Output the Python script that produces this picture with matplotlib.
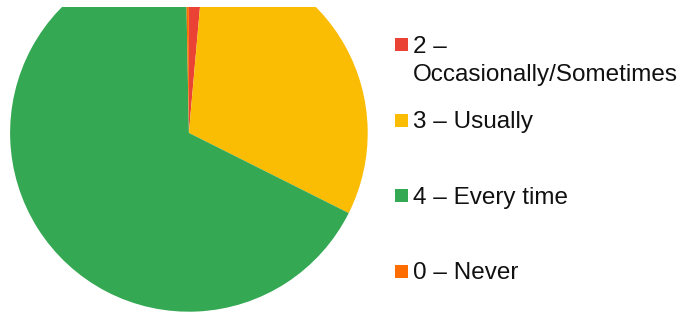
import matplotlib
matplotlib.use("Agg")
import matplotlib.pyplot as plt
from matplotlib.patches import Rectangle

labels = ["2 –\nOccasionally/Sometimes", "3 – Usually", "4 – Every time", "0 – Never"]
values = [1.4, 31.0, 67.3, 0.3]
colors = ["#EA4335", "#FBBC04", "#34A853", "#FF6D01"]

W, H = 688, 314
fig = plt.figure(figsize=(W / 100, H / 100), dpi=100)

# pie axes: pixel-based coordinates, clipped at top (7px)
top_clip = 7
ax_w = 380
ax_h = H - top_clip
ax = fig.add_axes([0, 0, ax_w / W, ax_h / H])
cx, cy_top, r = 188.9, 132.9, 178.8
wedges, _ = ax.pie(values, colors=colors, startangle=90, counterclock=False,
                   center=(cx, H - cy_top), radius=r,
                   wedgeprops=dict(linewidth=0, antialiased=True))
for w in wedges:
    w.set_clip_on(True)
    w.set_clip_box(ax.bbox)
ax.set_xlim(0, ax_w)
ax.set_ylim(0, ax_h)
ax.set_aspect("auto")
ax.axis("off")

# legend overlay in pixel coordinates (y downward)
lax = fig.add_axes([0, 0, 1, 1])
lax.set_xlim(0, W)
lax.set_ylim(H, 0)
lax.axis("off")

fs = 17.5
first_center = 44.5
step = 75.5
line_gap = 28.0
for i, (lab, col) in enumerate(zip(labels, colors)):
    yc = first_center + i * step
    lax.add_patch(Rectangle((395, yc - 6.5), 13, 13, facecolor=col, edgecolor="none"))
    for j, line in enumerate(lab.split("\n")):
        lax.text(413, yc + 8.4 + j * line_gap, line, fontsize=fs,
                 family=["Liberation Sans", "DejaVu Sans"], color="#111111",
                 va="baseline", ha="left")

fig.savefig("out.png", dpi=100)
